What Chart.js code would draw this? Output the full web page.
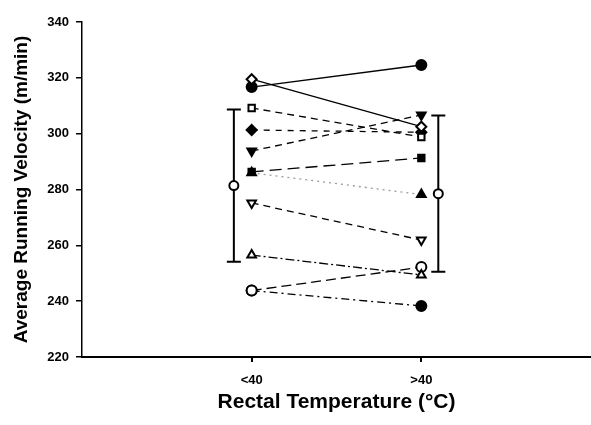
<!DOCTYPE html>
<html lang="en">
<head>
    <meta charset="UTF-8">
    <title>Average Running Velocity</title>
    <script src="https://cdn.jsdelivr.net/npm/chart.js"></script>
    <style>
        html, body {
            margin: 0;
            padding: 0;
            background: #ffffff;
            overflow: hidden;
        }
        .chart-box {
            width: 591px;
            height: 425px;
        }
    </style>
</head>
<body>
    <div class="chart-box"><canvas id="chart"></canvas></div>

    <script>
        // rectal temperature groups
        const categories = ['<40', '>40'];
        // one value per runner in each group
        const below40 = [319.5, 316.7, 309.2, 301.3, 293.8, 286.3, 286.0, 275.2, 256.5, 243.8, 243.8];
        const above40 = [302.5, 324.6, 298.8, 300.5, 306.7, 291.3, 278.2, 261.9, 249.4, 252.2, 238.3];
        // group mean and SD
        const groupMeans = [281.4, 278.5];
        const groupSD = [27.3, 28.0];
        const yTicks = [220, 240, 260, 280, 300, 320, 340];

        // marker / line look for each runner
        const looks = [
            { style: 'rectRot', open: true, dash: [] },
            { style: 'circle', open: false, dash: [] },
            { style: 'rect', open: true, dash: [7, 5] },
            { style: 'rectRot', open: false, dash: [6, 6] },
            { style: 'triangle', rot: 180, open: false, dash: [7, 5] },
            { style: 'rect', open: false, dash: [12, 6] },
            { style: 'triangle', open: false, dash: [2, 4], color: '#9a9a9a' },
            { style: 'triangle', rot: 180, open: true, dash: [7, 5] },
            { style: 'triangle', open: true, dash: [9, 3, 2, 3] },
            { style: 'circle', open: true, dash: [10, 5] },
            { style: 'circle', open: false, dash: [8, 4, 2, 4] }
        ];

        const datasets = below40.map((v, i) => {
            const lk = looks[i];
            return {
                data: [{ x: 1, y: v }, { x: 2, y: above40[i] }],
                showLine: true,
                borderColor: lk.color || '#000',
                borderWidth: 1.3,
                borderDash: lk.dash,
                pointStyle: lk.style,
                rotation: lk.rot || 0,
                pointRadius: lk.style === 'rect' ? 4.5 : 5,
                pointBorderColor: '#000',
                pointBorderWidth: 2,
                pointBackgroundColor: lk.open ? '#fff' : '#000'
            };
        });

        // mean markers sit a little outside the groups
        const meanX = [0.895, 2.1];
        datasets.unshift({
            data: groupMeans.map((m, i) => ({ x: meanX[i], y: m })),
            showLine: false,
            pointStyle: 'circle',
            pointRadius: 4.5,
            pointBorderColor: '#000',
            pointBorderWidth: 2,
            pointBackgroundColor: '#fff'
        });

        const errorBars = {
            id: 'errorBars',
            beforeDatasetsDraw(chart) {
                const ctx = chart.ctx;
                const xs = chart.scales.x;
                const ys = chart.scales.y;
                ctx.save();
                ctx.strokeStyle = '#000';
                ctx.lineWidth = 2;
                groupMeans.forEach((m, i) => {
                    const x = xs.getPixelForValue(meanX[i]);
                    const top = ys.getPixelForValue(m + groupSD[i]);
                    const bot = ys.getPixelForValue(m - groupSD[i]);
                    ctx.beginPath();
                    ctx.moveTo(x, top);
                    ctx.lineTo(x, bot);
                    ctx.moveTo(x - 7, top);
                    ctx.lineTo(x + 7, top);
                    ctx.moveTo(x - 7, bot);
                    ctx.lineTo(x + 7, bot);
                    ctx.stroke();
                });
                ctx.restore();
            }
        };

        new Chart(document.getElementById('chart'), {
            type: 'scatter',
            data: { datasets: datasets },
            options: {
                responsive: true,
                maintainAspectRatio: false,
                animation: false,
                // x axis should run right to the edge
                layout: { autoPadding: false, padding: { top: 22, right: 0, left: 0, bottom: 0 } },
                plugins: {
                    legend: { display: false },
                    tooltip: { enabled: false }
                },
                scales: {
                    x: {
                        type: 'linear',
                        min: 0,
                        max: 3,
                        afterBuildTicks: (s) => { s.ticks = [{ value: 1 }, { value: 2 }]; },
                        afterFit: (s) => { s.height = 68; },
                        ticks: {
                            callback: (v) => categories[v - 1],
                            color: '#000',
                            padding: 11,
                            font: { family: 'Liberation Sans, Arial', size: 13, weight: 'bold' }
                        },
                        grid: { drawOnChartArea: false, tickLength: 5, color: '#000', lineWidth: 2 },
                        border: { color: '#000', width: 2 },
                        title: {
                            display: true,
                            text: 'Rectal Temperature (°C)',
                            color: '#000',
                            padding: { top: 0, bottom: 10 },
                            font: { family: 'Liberation Sans, Arial', size: 21, weight: 'bold' }
                        }
                    },
                    y: {
                        min: 220,
                        max: 340,
                        afterBuildTicks: (s) => { s.ticks = yTicks.map(v => ({ value: v })); },
                        afterFit: (s) => { s.width = 82; },
                        ticks: {
                            color: '#000',
                            padding: 7,
                            font: { family: 'Liberation Sans, Arial', size: 13, weight: 'bold' }
                        },
                        grid: { drawOnChartArea: false, tickLength: 6, color: '#000', lineWidth: 1.5 },
                        border: { color: '#000', width: 1.5 },
                        title: {
                            display: true,
                            text: 'Average Running Velocity (m/min)',
                            color: '#000',
                            padding: { top: 10, bottom: 0 },
                            font: { family: 'Liberation Sans, Arial', size: 19, weight: 'bold' }
                        }
                    }
                }
            },
            plugins: [errorBars]
        });
    </script>
</body>
</html>
